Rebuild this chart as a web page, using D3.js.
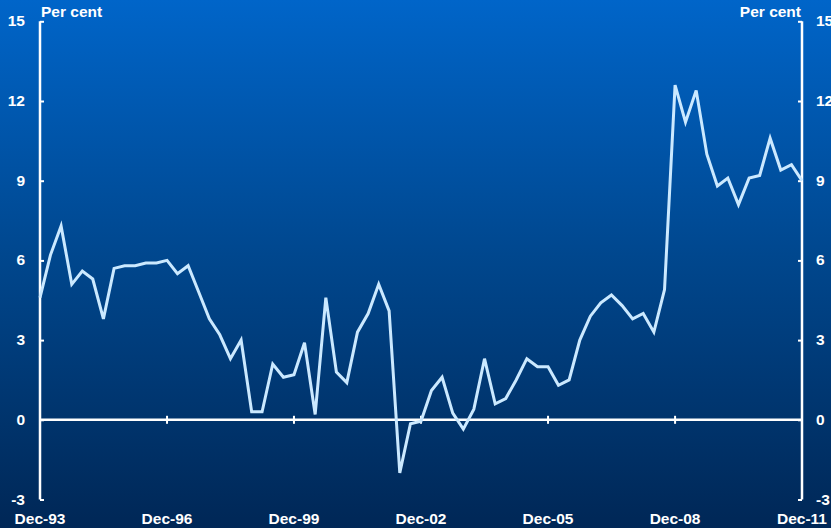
<!DOCTYPE html>
<html>
<head>
<meta charset="utf-8">
<script src="https://cdn.jsdelivr.net/npm/d3@7"></script>
<style>
  html, body { margin: 0; padding: 0; background: #00285a; }
  svg { display: block; }
  text { font-family: "Liberation Sans", Arial, sans-serif; font-weight: bold; fill: #ffffff; }
</style>
</head>
<body>
<svg id="chart" width="831" height="528"></svg>
<script>
// Quarterly series, Dec-93 to Dec-11 (per cent)
const startDate = new Date(1993, 11, 1);
const values = [
  4.6, 6.2, 7.3, 5.1, 5.6, 5.3, 3.8, 5.7, 5.8, 5.8,
  5.9, 5.9, 6.0, 5.5, 5.8, 4.8, 3.8, 3.2, 2.3, 3.0,
  0.3, 0.3, 2.1, 1.6, 1.7, 2.9, 0.2, 4.6, 1.8, 1.4,
  3.3, 4.0, 5.1, 4.1, -2.0, -0.15, -0.05, 1.1, 1.6, 0.25,
  -0.35, 0.4, 2.3, 0.6, 0.8, 1.5, 2.3, 2.0, 2.0, 1.3,
  1.5, 3.0, 3.9, 4.4, 4.7, 4.3, 3.8, 4.0, 3.3, 4.9,
  12.6, 11.2, 12.4, 10.0, 8.8, 9.1, 8.1, 9.1, 9.2, 10.6,
  9.4, 9.6, 9.0
];
const yTicks = [-3, 0, 3, 6, 9, 12, 15];
const xTickLabels = ["Dec-93", "Dec-96", "Dec-99", "Dec-02", "Dec-05", "Dec-08", "Dec-11"];
const unitLabel = "Per cent";

const dates = values.map((_, i) => d3.timeMonth.offset(startDate, 3 * i));
const data = values.map((v, i) => ({ date: dates[i], value: v }));
const xTickDates = xTickLabels.map((_, i) => d3.timeMonth.offset(startDate, 36 * i));

const W = 831, H = 528;
const plotLeft = 40, plotRight = 802, plotTop = 21.3, plotBottom = 499.5;

const svg = d3.select("#chart");

// background gradient
const defs = svg.append("defs");
const grad = defs.append("linearGradient")
  .attr("id", "bg").attr("x1", 0).attr("y1", 0).attr("x2", 0).attr("y2", 1);
grad.append("stop").attr("offset", "0%").attr("stop-color", "#0065c9");
grad.append("stop").attr("offset", "50%").attr("stop-color", "#00468c");
grad.append("stop").attr("offset", "100%").attr("stop-color", "#002756");
svg.append("rect").attr("width", W).attr("height", H).attr("fill", "url(#bg)");

const x = d3.scaleTime().domain([dates[0], dates[dates.length - 1]]).range([plotLeft, plotRight]);
const y = d3.scaleLinear().domain([-3, 15]).range([plotBottom, plotTop]);

// left axis
const leftAxis = d3.axisRight(y).tickValues(yTicks).tickSize(4).tickFormat("");
const gl = svg.append("g").attr("transform", `translate(${plotLeft},0)`).call(leftAxis);
gl.select(".domain").attr("stroke", "#fff").attr("stroke-width", 2.5).attr("d", `M0,${plotTop}V${plotBottom}`);
gl.selectAll(".tick line").attr("stroke", "#fff").attr("stroke-width", 2);

// right axis
const rightAxis = d3.axisLeft(y).tickValues(yTicks).tickSize(4).tickFormat("");
const gr = svg.append("g").attr("transform", `translate(${plotRight},0)`).call(rightAxis);
gr.select(".domain").attr("stroke", "#fff").attr("stroke-width", 2.5).attr("d", `M0,${plotTop}V${plotBottom}`);
gr.selectAll(".tick line").attr("stroke", "#fff").attr("stroke-width", 2);

// y tick labels
svg.append("g").selectAll("text").data(yTicks).join("text")
  .attr("x", 25).attr("y", d => y(d) + 1).attr("text-anchor", "end")
  .attr("dominant-baseline", "middle").style("font-size", "15.5px").text(d => d);
svg.append("g").selectAll("text").data(yTicks).join("text")
  .attr("x", 816).attr("y", d => y(d) + 1).attr("text-anchor", "start")
  .attr("dominant-baseline", "middle").style("font-size", "15.5px").text(d => d);

// zero line with crossing ticks
svg.append("line").attr("x1", plotLeft).attr("x2", plotRight).attr("y1", y(0)).attr("y2", y(0))
  .attr("stroke", "#fff").attr("stroke-width", 2.5);
svg.append("g").selectAll("line").data(xTickDates.slice(1, -1)).join("line")
  .attr("x1", d => x(d)).attr("x2", d => x(d))
  .attr("y1", y(0) - 4).attr("y2", y(0) + 4)
  .attr("stroke", "#fff").attr("stroke-width", 2);

// x tick labels
svg.append("g").selectAll("text").data(xTickDates).join("text")
  .attr("x", d => x(d)).attr("y", 520).attr("text-anchor", "middle")
  .attr("dominant-baseline", "middle").style("font-size", "15.5px")
  .text((d, i) => xTickLabels[i]);

// unit labels
svg.append("text").attr("x", 41).attr("y", 13).attr("dominant-baseline", "middle")
  .style("font-size", "15.5px").text(unitLabel);
svg.append("text").attr("x", plotRight - 1).attr("y", 13).attr("dominant-baseline", "middle")
  .attr("text-anchor", "end").style("font-size", "15.5px").text(unitLabel);

// series line
const line = d3.line().x(d => x(d.date)).y(d => y(d.value));
svg.append("path").datum(data).attr("d", line)
  .attr("fill", "none").attr("stroke", "#cbe9ff").attr("stroke-width", 3)
  .attr("stroke-linejoin", "miter");
</script>
</body>
</html>
